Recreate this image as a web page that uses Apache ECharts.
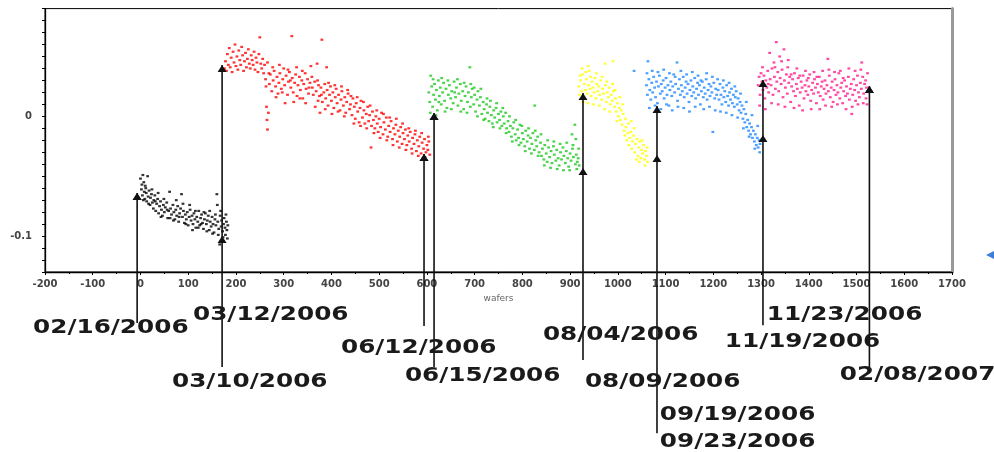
<!DOCTYPE html>
<html><head><meta charset="utf-8">
<script src="https://cdn.jsdelivr.net/npm/echarts@6/dist/echarts.min.js"></script>
<style>html,body{margin:0;padding:0;background:#fff}#c{width:994px;height:452px}</style>
</head><body><div id="c"></div>
<script>
// ---- data (wafer index, value) ----
const blackPts = [[0,-.052],[2,-.061],[3,-.057],[4,-.066],[5,-.049],[7,-.055],[8,-.063],[9,-.069],[10,-.058],[12,-.064],[13,-.071],[15,-.050],[16,-.067],[18,-.062],[20,-.074],[21,-.068],[23,-.065],[25,-.072],[27,-.077],[28,-.070],[30,-.066],[32,-.079],[34,-.073],[36,-.069],[38,-.081],[40,-.075],[42,-.071],[44,-.078],[46,-.083],[48,-.074],[50,-.080],[52,-.076],[55,-.072],[57,-.085],[59,-.079],[61,-.063],[63,-.077],[65,-.082],[68,-.074],[70,-.080],[72,-.086],[74,-.078],[76,-.083],[78,-.075],[80,-.088],[82,-.081],[84,-.077],[86,-.065],[88,-.084],[90,-.079],[92,-.089],[94,-.082],[96,-.086],[98,-.080],[100,-.091],[102,-.084],[104,-.078],[106,-.087],[108,-.083],[110,-.090],[112,-.081],[114,-.086],[116,-.093],[118,-.084],[120,-.088],[122,-.079],[124,-.091],[126,-.085],[128,-.082],[130,-.089],[132,-.094],[134,-.086],[136,-.081],[138,-.090],[140,-.087],[142,-.083],[144,-.095],[146,-.088],[148,-.092],[150,-.084],[152,-.090],[154,-.097],[156,-.086],[158,-.091],[160,-.065],[161,-.074],[162,-.088],[164,-.094],[166,-.107],[167,-.083],[169,-.092],[170,-.087],[172,-.096],[174,-.090],[175,-.085],[177,-.093],[178,-.099],[180,-.088],[181,-.095],[183,-.091],
 [6,-.070],[11,-.060],[17,-.073],[24,-.061],[31,-.071],[37,-.064],[43,-.084],[49,-.069],[56,-.078],[62,-.085],[69,-.087],[75,-.070],[81,-.084],[89,-.073],[95,-.090],[103,-.074],[109,-.095],[115,-.079],[121,-.093],[127,-.090],[133,-.080],[139,-.096],[145,-.079],[151,-.098],[157,-.082],[163,-.099],[168,-.079],[173,-.101],[179,-.082],[182,-.102]];
const redPts = [[176,.040],[178,.046],[180,.038],[182,.052],[184,.043],[186,.057],[188,.041],[190,.049],[192,.037],[194,.054],[196,.045],[198,.060],[200,.042],[202,.050],[204,.039],[206,.055],[208,.047],[210,.043],[212,.058],[214,.051],[216,.038],[218,.046],[220,.053],[222,.041],[224,.048],[226,.056],[228,.044],[230,.040],[232,.051],[234,.047],[236,.043],[238,.054],[240,.039],[242,.049],[244,.045],[246,.037],[248,.052],[250,.066],[252,.044],[254,.040],[256,.048],[258,.036],[260,.043],[264,.008],[265,-.003],[266,-.011],[268,.003],[262,.031],[266,.045],[270,.027],[272,.035],[275,.021],[278,.030],[280,.038],[283,.025],[286,.033],[288,.019],[290,.028],[292,.036],[295,.023],[298,.031],[300,.040],[302,.026],[305,.034],[308,.018],[310,.029],[312,.037],[315,.024],[317,.067],[318,.032],[320,.020],[323,.028],[325,.035],[328,.017],[330,.026],[333,.033],[335,.022],[338,.030],[340,.015],[342,.027],[345,.036],[347,.023],[350,.031],[352,.019],[355,.028],[357,.042],[360,.024],[362,.018],[365,.029],[368,.021],[370,.044],[372,.013],[373,.026],[375,.017],[376,.003],[378,.024],[380,.064],[381,.012],[384,.020],[386,.027],[388,.015],[390,.041],[391,.022],[393,.009],[396,.018],[398,.025],[400,.013],[403,.020],[405,.007],[408,.016],[410,.023],[412,.011],[415,.018],[418,.005],[420,.014],[422,.021],[425,.009],[428,.016],[430,.003],[432,.012],[435,.019],[438,.006],[440,.010],[443,.001],[445,.015],[448,.008],[450,-.002],[452,.011],[455,.004],[458,-.005],[460,.007],[462,.013],[465,-.001],[468,.005],[470,-.006],[473,.002],[476,.008],[478,-.004],[480,.001],[483,-.026],[484,-.008],[486,.004],[488,-.003],[491,-.010],[493,.000],[496,-.006],[498,-.013],[500,-.002],[503,-.009],[505,.003],[508,-.015],[510,-.005],[513,-.011],[515,-.001],[518,-.017],[520,-.008],[523,-.013],[525,-.004],[528,-.019],[530,-.010],[533,-.015],[535,-.007],[538,-.021],[540,-.012],[543,-.017],[545,-.009],[548,-.023],[550,-.014],[553,-.019],[555,-.011],[558,-.024],[560,-.016],[563,-.021],[565,-.013],[568,-.027],[570,-.018],[573,-.023],[575,-.015],[578,-.029],[580,-.020],[583,-.025],[585,-.017],[588,-.031],[590,-.022],[593,-.027],[595,-.019],[598,-.030],[600,-.024],[602,-.028],[604,-.021],[606,-.032],
 [263,.025],[269,.036],[277,.041],[284,.016],[291,.043],[297,.020],[303,.011],[309,.039],[314,.030],[321,.012],[327,.041],[334,.015],[339,.038],[346,.011],[353,.024],[359,.033],[366,.008],[371,.030],[379,.018],[387,.006],[394,.028],[401,.002],[407,.026],[414,.004],[421,.025],[427,.000],[434,.022],[441,.017],[447,-.006],[454,.016],[461,-.008],[467,.012],[474,-.010],[481,.009],[489,-.014],[495,.005],[502,-.018],[509,.002],[516,-.020],[522,-.001],[529,-.024],[536,-.002],[542,-.026],[549,-.006],[556,-.028],[562,-.010],[569,-.031],[576,-.012],[582,-.033],[589,-.014],[596,-.034],[603,-.017]];
const greenPts = [[604,.020],[606,.012],[608,.034],[610,.025],[612,.008],[614,.018],[616,.027],[618,.014],[620,.022],[622,.005],[624,.030],[626,.017],[628,.024],[630,.010],[633,.020],[635,.028],[637,.013],[640,.023],[642,.007],[645,.018],[647,.026],[650,.015],[652,.021],[655,.011],[657,.029],[660,.016],[662,.024],[665,.009],[667,.019],[670,.027],[672,.013],[675,.021],[677,.006],[680,.017],[682,.025],[685,.012],[687,.020],[690,.041],[691,.008],[693,.016],[695,.023],[698,.010],[700,.018],[702,.004],[705,.014],[707,.021],[710,.009],[712,.016],[715,.002],[718,.012],[720,.006],[722,-.002],[725,.010],[727,.003],[730,-.004],[732,.008],[735,.001],[737,-.006],[740,.005],[742,-.001],[745,.007],[747,-.005],[750,.002],[752,-.003],[755,.004],[757,-.008],[760,.000],[762,-.006],[765,.003],[767,-.010],[770,-.004],[772,-.013],[775,-.008],[777,-.017],[780,-.010],[782,-.005],[785,-.015],[787,-.020],[790,-.011],[792,-.018],[795,-.007],[797,-.022],[800,-.014],[802,-.019],[805,-.025],[807,-.012],[810,-.021],[812,-.016],[815,-.027],[817,-.018],[820,-.023],[822,-.014],[825,-.028],[826,.009],[828,-.020],[830,-.025],[832,-.017],[835,-.030],[838,-.022],[840,-.033],[842,-.027],[845,-.036],[847,-.024],[850,-.031],[852,-.038],[855,-.026],[857,-.034],[860,-.029],[862,-.039],[865,-.025],[867,-.032],[870,-.037],[872,-.028],[875,-.035],[877,-.041],[880,-.030],[882,-.036],[885,-.026],[887,-.033],[890,-.039],[892,-.029],[895,-.035],[897,-.042],[900,-.031],[902,-.037],[904,-.015],[905,-.027],[907,-.034],[910,-.007],[911,-.040],[912,-.019],[913,-.032],[915,-.038],[917,-.035],[919,-.041],
 [607,.003],[613,.031],[619,.001],[625,.012],[631,.032],[638,.004],[644,.030],[651,.006],[658,.020],[664,.031],[671,.004],[678,.028],[684,.003],[692,.027],[699,.024],[706,.000],[713,.023],[719,-.003],[726,.015],[733,.013],[739,-.009],[746,.011],[753,-.010],[759,.007],[766,-.014],[773,.000],[779,-.021],[786,-.003],[793,-.024],[799,-.008],[806,-.029],[813,-.010],[819,-.031],[827,-.012],[833,-.033],[839,-.015],[846,-.041],[853,-.020],[859,-.043],[866,-.021],[873,-.044],[879,-.023],[886,-.045],[893,-.022],[899,-.045],[906,-.024],[914,-.044],[918,-.027]];
const yellowPts = [[918,.025],[920,.018],[922,.030],[924,.021],[925,.040],[926,.035],[928,.016],[930,.027],[932,.022],[934,.031],[936,.019],[938,.042],[939,.026],[940,.038],[942,.023],[944,.017],[946,.029],[948,.024],[950,.020],[952,.032],[954,.015],[956,.027],[958,.021],[960,.025],[962,.018],[964,.030],[966,.014],[968,.023],[970,.019],[973,.044],[974,.026],[976,.012],[978,.020],[980,.016],[982,.024],[984,.010],[986,.018],[988,.013],[990,.046],[991,.021],[993,.008],[995,.015],[997,.004],[999,.011],[1001,.000],[1003,.007],[1005,-.003],[1007,.005],[1009,-.007],[1011,.002],[1013,-.012],[1015,-.016],[1017,-.009],[1019,-.020],[1021,-.014],[1023,-.024],[1025,-.018],[1027,-.013],[1029,-.027],[1031,-.021],[1033,-.016],[1035,-.030],[1037,-.023],[1040,-.019],[1042,-.033],[1044,-.026],[1046,-.021],[1048,-.035],[1050,-.028],[1052,-.031],[1054,-.024],[1056,-.036],[1058,-.029],[1060,-.033],[1062,-.038],
 [921,.034],[927,.012],[933,.037],[937,.011],[943,.033],[949,.010],[955,.036],[961,.009],[967,.033],[972,.006],[977,.029],[983,.004],[989,.027],[994,.022],[998,-.004],[1004,.016],[1010,.010],[1016,-.002],[1022,-.006],[1028,-.004],[1034,-.010],[1039,-.036],[1045,-.038],[1051,-.020],[1057,-.041],[1061,-.026]];
const bluePts = [[1034,.038],[1060,.026],[1062,.018],[1063,.046],[1065,.031],[1067,.022],[1069,.014],[1071,.028],[1073,.020],[1075,.033],[1077,.024],[1079,.016],[1081,.029],[1083,.011],[1085,.025],[1087,.034],[1089,.019],[1091,.027],[1093,.021],[1095,.030],[1097,.015],[1099,.024],[1101,.032],[1103,.018],[1105,.026],[1107,.009],[1109,.022],[1111,.029],[1113,.017],[1115,.025],[1117,.035],[1119,.020],[1121,.027],[1124,.045],[1125,.013],[1127,.023],[1129,.031],[1131,.018],[1133,.026],[1135,.021],[1137,.033],[1139,.016],[1141,.024],[1143,.029],[1145,.019],[1147,.027],[1149,.012],[1151,.022],[1153,.030],[1155,.017],[1157,.025],[1159,.020],[1161,.032],[1163,.015],[1165,.023],[1167,.028],[1169,.018],[1171,.026],[1173,.010],[1175,.021],[1177,.029],[1179,.016],[1181,.024],[1183,.019],[1185,.031],[1187,.014],[1189,.022],[1191,.027],[1193,.017],[1195,.025],[1197,.020],[1199,-.013],[1201,.028],[1203,.015],[1205,.023],[1207,.018],[1210,.022],[1212,.014],[1214,.027],[1216,.018],[1218,.010],[1220,.024],[1222,.016],[1224,.021],[1226,.012],[1228,.026],[1230,.017],[1232,.009],[1234,.020],[1236,.014],[1238,.023],[1240,.011],[1242,.018],[1244,.008],[1246,.016],[1248,.021],[1250,.010],[1252,.015],[1254,.005],[1256,.012],[1258,.003],[1260,.009],[1262,-.002],[1264,.006],[1266,-.005],[1268,.002],[1270,-.009],[1272,-.003],[1274,-.012],[1276,-.006],[1278,-.015],[1280,-.009],[1282,-.018],[1284,-.012],[1286,-.021],[1288,-.015],[1290,-.024],[1292,-.018],[1294,-.026],[1296,-.020],[1298,-.023],
 [1061,.036],[1066,.007],[1072,.038],[1078,.009],[1084,.037],[1090,.006],[1096,.039],[1102,.010],[1108,.036],[1114,.005],[1120,.033],[1126,.008],[1132,.038],[1138,.007],[1144,.035],[1150,.004],[1156,.037],[1162,.008],[1168,.034],[1174,.030],[1180,.006],[1186,.036],[1192,.008],[1198,.033],[1204,.005],[1209,.031],[1215,.004],[1221,.030],[1227,.003],[1233,.028],[1239,.001],[1245,.025],[1251,-.001],[1257,.019],[1263,-.010],[1269,.012],[1275,-.017],[1281,.001],[1287,-.027],[1293,-.008],[1297,-.030]];
const pinkPts = [[1294,.026],[1296,.033],[1298,.018],[1300,.036],[1302,.029],[1304,.022],[1306,.034],[1308,.015],[1310,.030],[1312,.024],[1314,.038],[1316,.020],[1318,.053],[1319,.031],[1321,.026],[1323,.040],[1325,.018],[1327,.045],[1328,.033],[1330,.023],[1332,.062],[1333,.029],[1335,.037],[1337,.021],[1339,.050],[1340,.032],[1342,.027],[1344,.039],[1346,.016],[1348,.056],[1349,.030],[1351,.024],[1353,.035],[1355,.019],[1357,.047],[1358,.028],[1360,.033],[1362,.012],[1364,.025],[1366,.031],[1368,.021],[1370,.036],[1372,.017],[1374,.027],[1376,.023],[1378,.032],[1380,.009],[1382,.020],[1384,.029],[1386,.024],[1388,.034],[1390,.015],[1392,.026],[1394,.021],[1396,.030],[1398,.018],[1400,.025],[1402,.035],[1404,.013],[1406,.022],[1408,.028],[1410,.019],[1412,.031],[1414,.024],[1416,.011],[1418,.027],[1420,.020],[1422,.033],[1424,.017],[1426,.025],[1428,.029],[1430,.014],[1432,.023],[1434,.030],[1436,.019],[1438,.026],[1440,.048],[1441,.021],[1443,.034],[1445,.016],[1447,.024],[1449,.029],[1451,.012],[1453,.022],[1455,.031],[1457,.018],[1459,.026],[1461,.020],[1463,.036],[1465,.015],[1467,.024],[1469,.028],[1471,.011],[1473,.021],[1475,.030],[1477,.017],[1479,.025],[1481,.019],[1483,.033],[1485,.014],[1487,.023],[1489,.027],[1490,.002],[1492,.018],[1494,.031],[1496,.022],[1498,.013],[1500,.026],[1502,.034],[1504,.020],[1506,.016],[1508,.028],[1510,.023],[1511,.045],[1513,.033],[1515,.019],[1517,.027],[1519,.030],[1521,.024],[1523,.036],
 [1297,.009],[1303,.041],[1309,.006],[1315,.027],[1322,.011],[1329,.041],[1336,.010],[1343,.046],[1350,.008],[1356,.041],[1363,.035],[1369,.007],[1375,.040],[1381,.034],[1387,.005],[1393,.038],[1399,.032],[1405,.006],[1411,.037],[1417,.033],[1423,.006],[1429,.038],[1435,.009],[1442,.039],[1448,.008],[1454,.037],[1460,.010],[1466,.038],[1472,.032],[1478,.006],[1484,.040],[1491,.008],[1497,.038],[1503,.010],[1509,.039],[1514,.011],[1520,.015],[1522,.010]];

// event markers: wafer, upper arrow tip value, lower arrow tip value (or null), line end value (below axis)
const eventWafer = [-7, 171, 594, 615, 927, 1082, 1304, 1527];
const eventTipUpper = [-0.064, 0.0429, -0.0315, 0.0028, 0.0195, 0.0086, 0.0303, 0.0253];
const eventTipLower = [null, -0.100, null, null, -0.0432, -0.0323, -0.0156, null];
const eventLineEnd = [-0.1727, -0.2094, -0.1752, -0.2094, -0.2036, -0.2646, -0.1744, -0.2094];

// date labels and their anchors (wafer, value) in axis units
const dateLabels = ['02/16/2006','03/12/2006','03/10/2006','06/12/2006','06/15/2006','08/04/2006','08/09/2006','09/19/2006','09/23/2006','11/23/2006','11/19/2006','02/08/2007'];
const dateLabelWafer = [-225, 110, 66, 420, 554, 843, 931, 1088, 1088, 1312, 1224, 1465];
const dateLabelValue = [-0.1769, -0.1660, -0.2220, -0.1936, -0.2170, -0.1827, -0.2220, -0.2495, -0.2721, -0.1660, -0.1886, -0.2161];

const yTickLabels = [-0.1, 0];
const xAxisName = 'wafers';

const chart = echarts.init(document.getElementById('c'), null, {renderer:'canvas'});

function scatter(data, color){
  return {type:'scatter', data, symbol:'rect', symbolSize:[2.8,2.2], itemStyle:{color}, silent:true, animation:false, z:2};
}

const arrowData = eventWafer.map((w,i)=>[w, eventTipUpper[i], eventTipLower[i]==null ? eventTipUpper[i] : eventTipLower[i], eventLineEnd[i]]);
const labelData = dateLabelWafer.map((w,i)=>[w, dateLabelValue[i]]);

const option = {
  backgroundColor:'#fff',
  animation:false,
  grid:{left:45, right:42, top:8.6, bottom:180, show:true, borderColor:'#000', borderWidth:1, containLabel:false},
  xAxis:{type:'value', min:-200, max:1700, interval:100,
    name:xAxisName, nameLocation:'middle', nameGap:20,
    nameTextStyle:{color:'#666', fontSize:9, fontFamily:'DejaVu Sans'},
    axisLine:{show:true, onZero:false, lineStyle:{color:'#000', width:1.3}},
    axisTick:{show:true, length:3, lineStyle:{color:'#000'}},
    minorTick:{show:true, splitNumber:2, length:2, lineStyle:{color:'#000'}},
    splitLine:{show:false},
    axisLabel:{color:'#444', fontSize:10, fontWeight:'bold', fontFamily:'DejaVu Sans', margin:7,
      formatter:function(v){ return String(v); }}
  },
  yAxis:[{type:'value', min:-0.13, max:0.09, interval:0.01,
    axisLine:{show:true, onZero:false, lineStyle:{color:'#000', width:1.3}},
    axisTick:{show:true, length:3, lineStyle:{color:'#000'}},
    splitLine:{show:false},
    axisLabel:{color:'#444', fontSize:10, fontWeight:'bold', fontFamily:'DejaVu Sans', margin:13,
      formatter:function(v){ for (const t of yTickLabels){ if (Math.abs(v-t)<1e-9) return String(t); } return ''; }}
  },{type:'value', min:-0.13, max:0.09, position:'right',
    axisLine:{show:true, onZero:false, lineStyle:{color:'#9a9a9a', width:3}},
    axisTick:{show:false}, axisLabel:{show:false}, splitLine:{show:false}
  }],
  series:[
    scatter(blackPts,'#000000'),
    scatter(redPts,'#ff0000'),
    scatter(greenPts,'#1ec81e'),
    scatter(yellowPts,'#ffff00'),
    scatter(bluePts,'#1e88ff'),
    scatter(pinkPts,'#ff1a8c'),
    {type:'custom', data:arrowData, silent:true, animation:false, z:5, clip:false,
      renderItem:function(params, api){
        const x = api.value(0);
        const pTop = api.coord([x, api.value(1)]);
        const pLow = api.coord([x, api.value(2)]);
        const pEnd = api.coord([x, api.value(3)]);
        const children = [{type:'line', shape:{x1:pTop[0], y1:pTop[1], x2:pEnd[0], y2:pEnd[1]}, style:{stroke:'#111', lineWidth:1.6}}];
        [pTop, pLow].forEach(p=>{
          children.push({type:'polygon', shape:{points:[[p[0],p[1]],[p[0]-4.5,p[1]+7],[p[0]+4.5,p[1]+7]]}, style:{fill:'#111'}});
        });
        return {type:'group', children};
      }},
    {type:'custom', data:labelData, silent:true, animation:false, z:6, clip:false,
      renderItem:function(params, api){
        const p = api.coord([api.value(0), api.value(1)]);
        return {type:'text', x:p[0], y:p[1], scaleX:1.3, scaleY:1,
          style:{text:dateLabels[params.dataIndex], fill:'#1a1a1a', fontSize:19, fontWeight:'bold', fontFamily:'DejaVu Sans', align:'left', verticalAlign:'middle'}};
      }}
  ],
  graphic:[{type:'polygon', shape:{points:[[986,255],[994,251],[994,259]]}, style:{fill:'#3d7fd6'}}]
};
chart.setOption(option);
</script>
</body></html>
